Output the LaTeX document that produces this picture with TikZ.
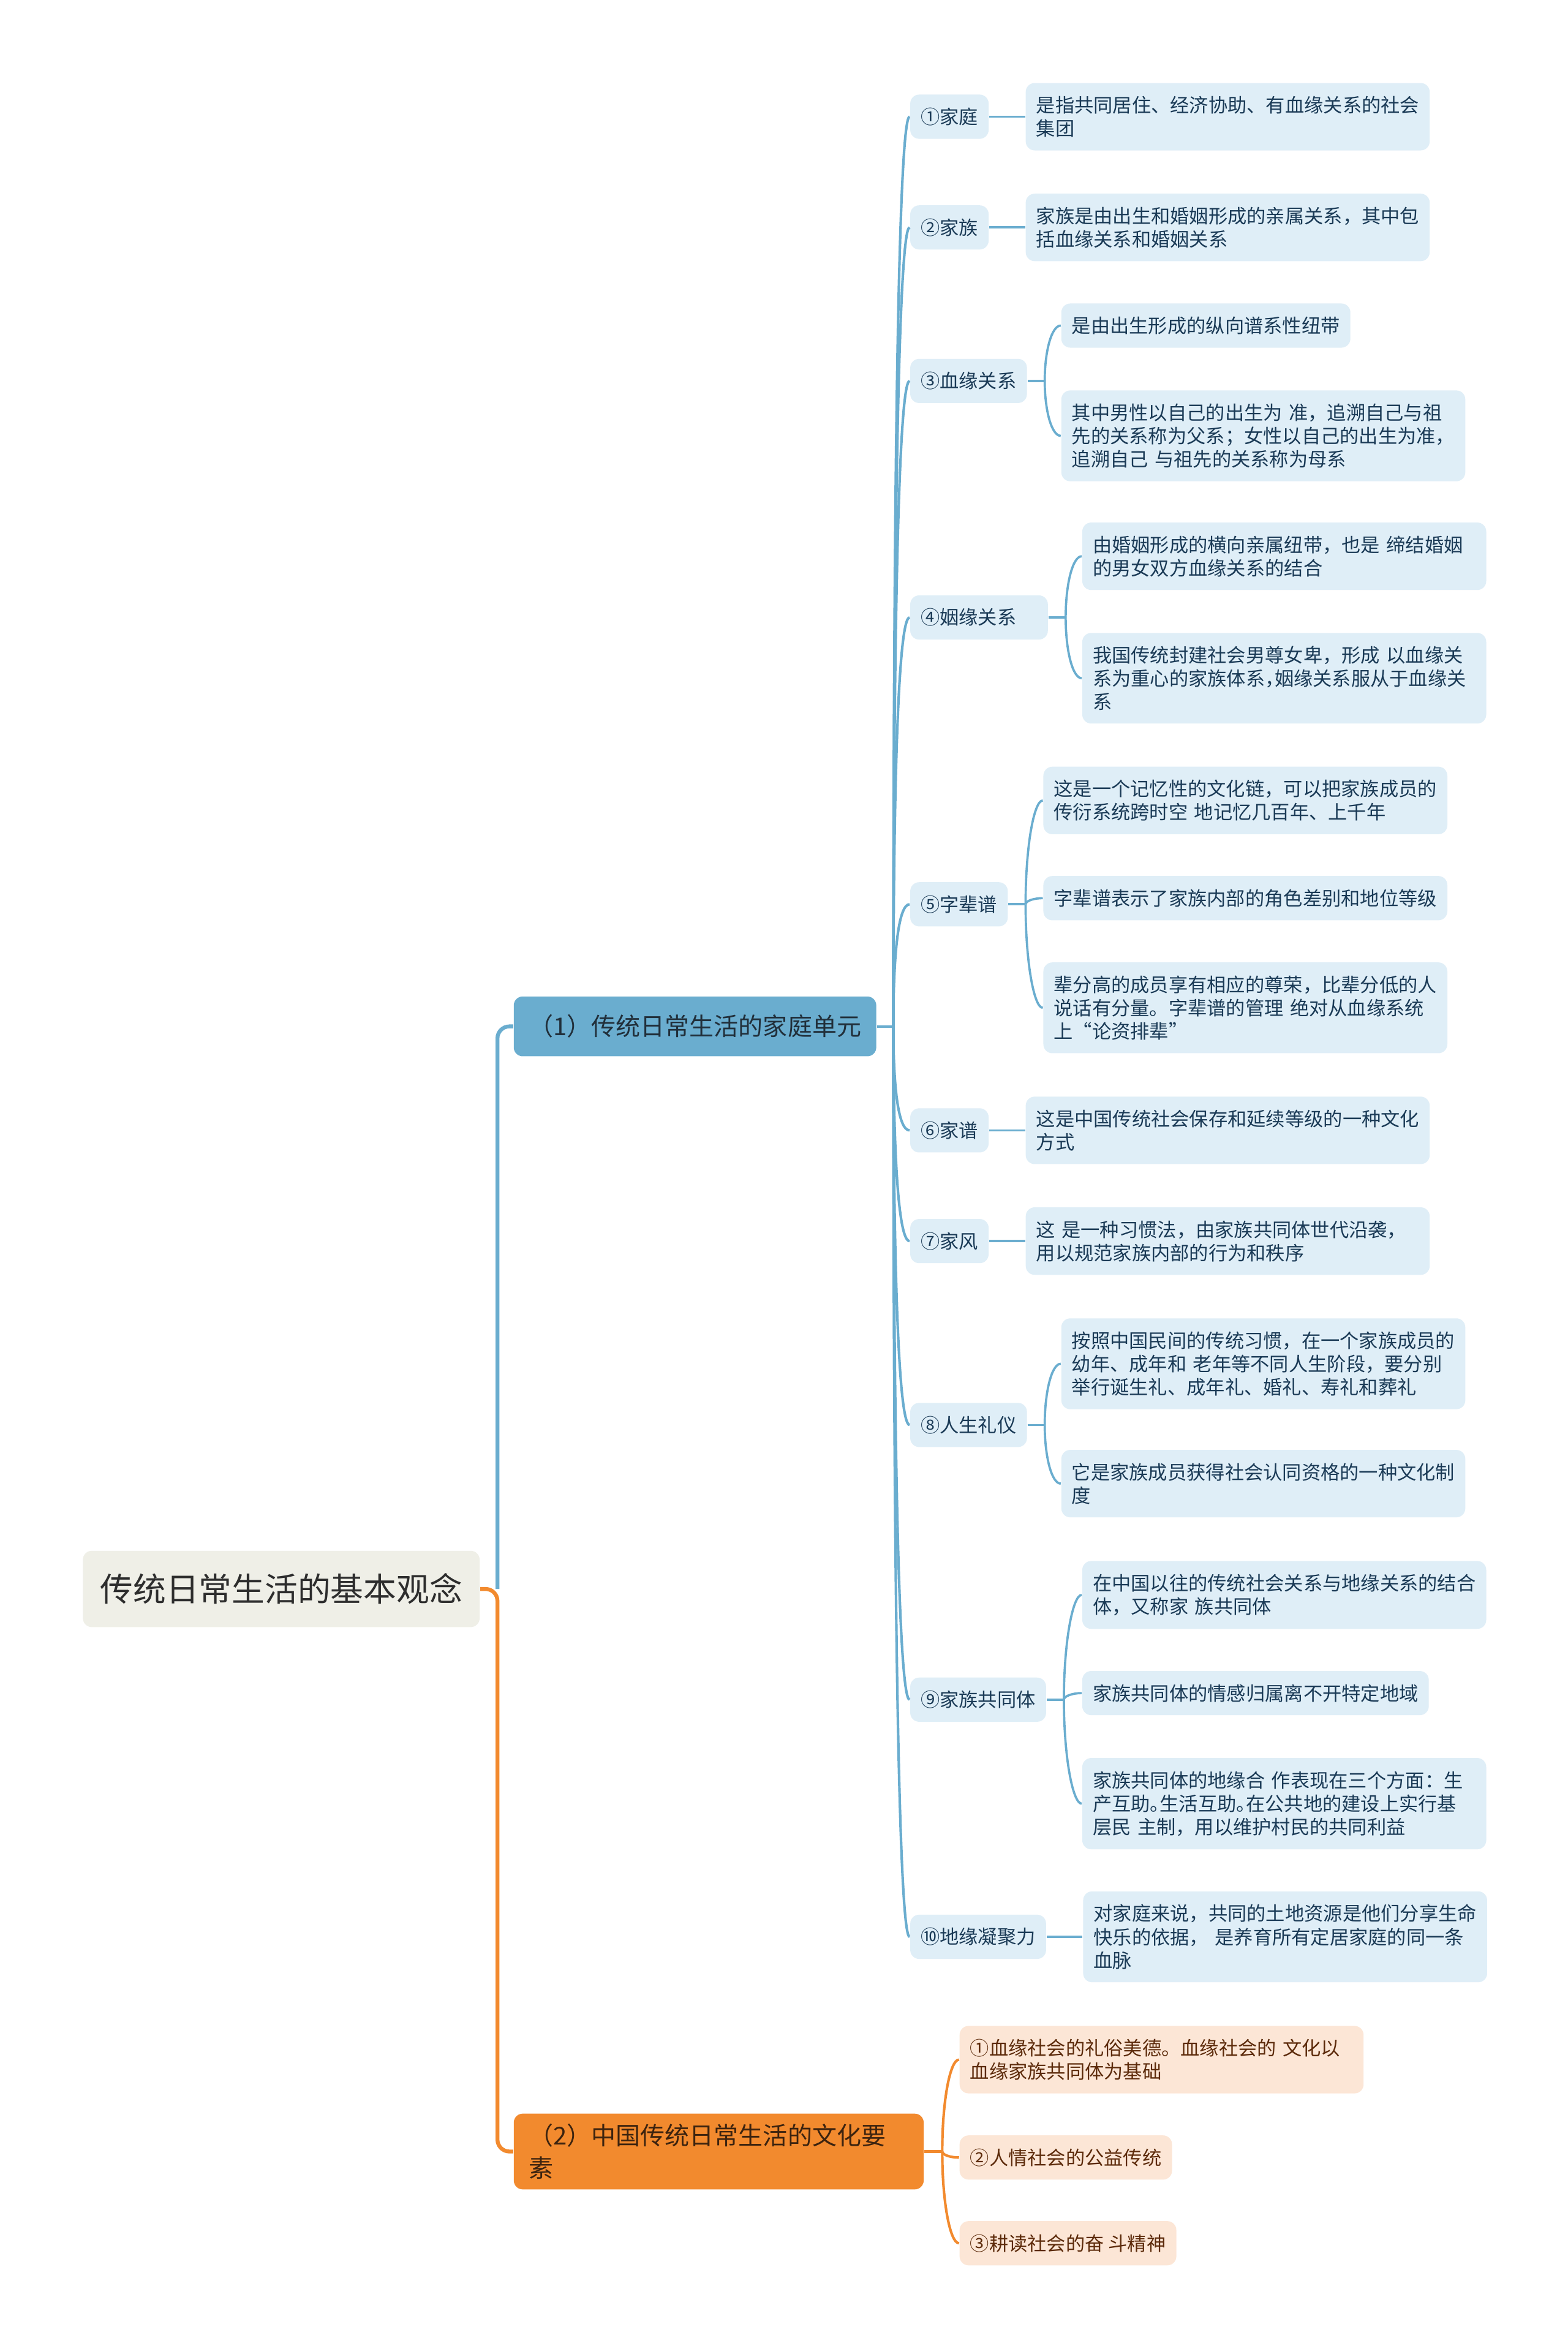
\documentclass[tikz,border=0pt]{standalone}
\usepackage{fontspec}
\setmainfont{Noto Sans CJK SC}
\usepackage{tikz}
\usetikzlibrary{positioning,calc}
\definecolor{mapblue}{RGB}{106,173,207}
\definecolor{mapnavy}{RGB}{26,58,86}
\definecolor{mapice}{RGB}{223,238,247}
\definecolor{maporange}{RGB}{242,138,46}
\definecolor{mappeach}{RGB}{252,230,214}
\definecolor{mapbrown}{RGB}{92,42,10}
\definecolor{mapstone}{RGB}{239,239,231}
\definecolor{mapink}{RGB}{45,45,45}
\definecolor{mapslate}{RGB}{33,47,58}
\definecolor{mapbark}{RGB}{60,35,15}
% narrow punctuation for the longest lines
\newcommand{\halfp}[1]{\makebox[0.5em][l]{#1}}

\begin{document}
\begin{tikzpicture}[x=0.5pt, y=-0.5pt,
    root/.style={fill=mapstone, text=mapink, rounded corners=3pt,
                 anchor=west, minimum height=25.5pt, inner xsep=5.8pt,
                 font=\fontsize{11}{14}\selectfont},
    branch/.style={fill=mapblue, text=mapslate, rounded corners=3pt,
                   anchor=west, minimum height=20pt, inner xsep=5pt,
                   font=\fontsize{8.2}{11}\selectfont, align=left},
    branchw/.style={branch, fill=maporange, text=mapbark},
    topic/.style={fill=mapice, text=mapnavy, rounded corners=3pt,
                  anchor=west, inner xsep=3.5pt, inner ysep=4.4pt,
                  font=\fontsize{6.4}{7.8}\selectfont, align=left},
    leaf/.style={topic, text width=128pt},
    warm/.style={topic, fill=mappeach, text=mapbrown},
    trunk/.style={line width=1.3pt, rounded corners=4pt},
    twig/.style={draw=mapblue, line width=0.85pt},
    sprig/.style={draw=mapblue, line width=0.75pt},
    wsprig/.style={draw=maporange, line width=0.85pt}
  ]
  \fill[white] (0,0) rectangle (1048,1568);
  \useasboundingbox (0,0) rectangle (1048,1568);

  % centre and main branches
  \node[root] (root) at (55,1062) {传统日常生活的基本观念};
  \node[branch] (b1) at (343,686) {（1）传统日常生活的家庭单元};
  \node[branchw, text width=127pt] (b2) at (343,1438)
        {（2）中国传统日常生活的文化要\\素};

  % second level
  \node[topic] (c1) at (608,78) {①家庭};
  \node[topic] (c2) at (608,152) {②家族};
  \node[topic] (c3) at (608,254.6) {③血缘关系};
  \node[topic, text width=39pt] (c4) at (608,412.7) {④姻缘关系};
  \node[topic] (c5) at (608,604.4) {⑤字辈谱};
  \node[topic] (c6) at (608,755.5) {⑥家谱};
  \node[topic] (c7) at (608,829.5) {⑦家风};
  \node[topic] (c8) at (608,952.4) {⑧人生礼仪};
  \node[topic] (c9) at (608,1136) {⑨家族共同体};
  \node[topic] (c10) at (608,1294.5) {⑩地缘凝聚力};

  % leaves
  \node[leaf, right=12pt of c1] (l1)
        {是指共同居住、经济协助、有血缘关系的社会\\集团};
  \node[leaf, right=12pt of c2] (l2)
        {家族是由出生和婚姻形成的亲属关系，其中包\\括血缘关系和婚姻关系};
  \node[topic] (l3a) at (709,217.6) {是由出生形成的纵向谱系性纽带};
  \node[leaf] (l3b) at (709,291.3)
        {其中男性以自己的出生为 准，追溯自己与祖\\先的关系称为父系；女性以自己的出生为准，\\追溯自己 与祖先的关系称为母系};
  \node[leaf] (l4a) at (723,371.8)
        {由婚姻形成的横向亲属纽带，也是 缔结婚姻\\的男女双方血缘关系的结合};
  \node[leaf] (l4b) at (723,453.3)
        {我国传统封建社会男尊女卑，形成 以血缘关\\系为重心的家族体系\halfp{，}姻缘关系服从于血缘关\\系};
  \node[leaf] (l5a) at (697,535)
        {这是一个记忆性的文化链，可以把家族成员的\\传衍系统跨时空 地记忆几百年、上千年};
  \node[topic] (l5b) at (697,600.3) {字辈谱表示了家族内部的角色差别和地位等级};
  \node[leaf] (l5c) at (697,673.6)
        {辈分高的成员享有相应的尊荣，比辈分低的人\\说话有分量。字辈谱的管理 绝对从血缘系统\\上“论资排辈”};
  \node[leaf, right=12pt of c6] (l6)
        {这是中国传统社会保存和延续等级的一种文化\\方式};
  \node[leaf, right=12pt of c7] (l7)
        {这 是一种习惯法，由家族共同体世代沿袭，\\用以规范家族内部的行为和秩序};
  \node[leaf] (l8a) at (709,911.5)
        {按照中国民间的传统习惯，在一个家族成员的\\幼年、成年和 老年等不同人生阶段，要分别\\举行诞生礼、成年礼、婚礼、寿礼和葬礼};
  \node[leaf] (l8b) at (709,991.6)
        {它是家族成员获得社会认同资格的一种文化制\\度};
  \node[leaf] (l9a) at (723,1066)
        {在中国以往的传统社会关系与地缘关系的结合\\体，又称家 族共同体};
  \node[topic] (l9b) at (723,1131.6) {家族共同体的情感归属离不开特定地域};
  \node[leaf] (l9c) at (723,1205.5)
        {家族共同体的地缘合 作表现在三个方面：生\\产互助\halfp{。}生活互助\halfp{。}在公共地的建设上实行基\\层民 主制，用以维护村民的共同利益};
  \node[leaf, right=12pt of c10] (l10)
        {对家庭来说，共同的土地资源是他们分享生命\\快乐的依据， 是养育所有定居家庭的同一条\\血脉};

  \node[warm, text width=128pt] (w1) at (641,1376.6)
        {①血缘社会的礼俗美德。血缘社会的 文化以\\血缘家族共同体为基础};
  \node[warm] (w2) at (641,1442) {②人情社会的公益传统};
  \node[warm] (w3) at (641,1499.3) {③耕读社会的奋 斗精神};

  % connectors
  \coordinate (jn) at ($(root.east)+(11.5,0)$);
  \draw[trunk, mapblue] (jn) |- (b1.west);
  \draw[trunk, maporange] (root.east) -- (jn) |- (b2.west);

  \coordinate (f1) at ($(b1.east)+(11,0)$);
  \draw[twig] (b1.east) -- (f1);
  \foreach \i in {1,...,10}
    \draw[twig] (f1) .. controls ($(f1)!0.55!(f1|-c\i.west)$)
                and ($(c\i.west)+(-8,0)$) .. (c\i.west);

  \foreach \p/\q in {c1/l1,c2/l2,c6/l6,c7/l7,c10/l10}
    \draw[sprig] (\p.east) -- (\q.west);

  \foreach \p/\kids in {c3/{l3a,l3b},c4/{l4a,l4b},c5/{l5a,l5b,l5c},
                        c8/{l8a,l8b},c9/{l9a,l9b,l9c}}{
    \coordinate (f) at ($(\p.east)+(11.5,0)$);
    \draw[sprig] (\p.east) -- (f);
    \foreach \k in \kids
      \draw[sprig] (f) .. controls ($(f)!0.55!(f|-\k.west)$)
                   and ($(\k.west)+(-6,0)$) .. (\k.west);
  }

  \coordinate (f2) at ($(b2.east)+(12,0)$);
  \draw[wsprig] (b2.east) -- (f2);
  \foreach \k in {w1,w2,w3}
    \draw[wsprig] (f2) .. controls ($(f2)!0.55!(f2|-\k.west)$)
                  and ($(\k.west)+(-6,0)$) .. (\k.west);
\end{tikzpicture}
\end{document}
